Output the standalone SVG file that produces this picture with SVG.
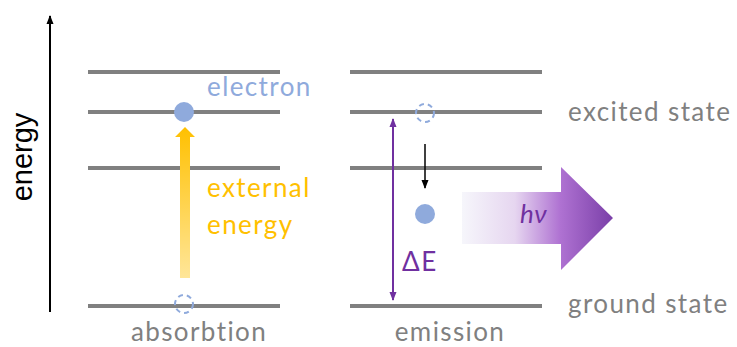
<svg xmlns="http://www.w3.org/2000/svg" width="737" height="347" viewBox="0 0 737 347">
<style>
.lvl{stroke:#808080;stroke-width:4;fill:none}
.t{font-family:Lato,"Open Sans",sans-serif;font-size:26px;letter-spacing:1.4px}
.grey{fill:#808080}
.dash{fill:none;stroke:#8FAADC;stroke-width:2;stroke-dasharray:5,4}
</style>
<defs>
<marker id="ab" markerWidth="10" markerHeight="10" refX="8" refY="5" orient="auto" markerUnits="userSpaceOnUse">
<path d="M0,1.5 L9,5 L0,8.5 Z" fill="#000"/>
</marker>
<marker id="ap" markerWidth="10" markerHeight="10" refX="8" refY="5" orient="auto-start-reverse" markerUnits="userSpaceOnUse">
<path d="M0,1.5 L9,5 L0,8.5 Z" fill="#7030A0"/>
</marker>
<linearGradient id="yg" x1="0" y1="1" x2="0" y2="0">
<stop offset="0" stop-color="#FFE699"/>
<stop offset="1" stop-color="#FFC000"/>
</linearGradient>
<linearGradient id="pg" x1="462" y1="0" x2="613" y2="0" gradientUnits="userSpaceOnUse">
<stop offset="0" stop-color="#F6F6FB"/>
<stop offset="0.35" stop-color="#E6D6F0"/>
<stop offset="0.65" stop-color="#AF72D2"/>
<stop offset="1" stop-color="#7A3FA8"/>
</linearGradient>
</defs>
<g id="axis">
<line x1="50" y1="312" x2="50" y2="16" stroke="#000" stroke-width="2" marker-end="url(#ab)"/>
<text x="32" y="157" transform="rotate(-90 32 157)" text-anchor="middle" font-family="Liberation Sans,Arial,sans-serif" font-size="29" fill="#000">energy</text>
</g>
<g id="levels-absorption">
<line class="lvl" x1="88" y1="72" x2="280" y2="72"/>
<line class="lvl" x1="88" y1="112" x2="280" y2="112"/>
<line class="lvl" x1="88" y1="168" x2="280" y2="168"/>
<line class="lvl" x1="88" y1="306" x2="280" y2="306"/>
</g>
<g id="levels-emission">
<line class="lvl" x1="350" y1="72" x2="542" y2="72"/>
<line class="lvl" x1="350" y1="112" x2="542" y2="112"/>
<line class="lvl" x1="350" y1="168" x2="542" y2="168"/>
<line class="lvl" x1="350" y1="306" x2="542" y2="306"/>
</g>
<g id="connectors">
<path id="external-energy-arrow" d="M180,278 L180,137 L175,137 L185,127 L195,137 L190,137 L190,278 Z" fill="url(#yg)"/>
<line x1="425" y1="144" x2="425" y2="188" stroke="#000" stroke-width="1.5" marker-end="url(#ab)"/>
<line x1="393" y1="119" x2="393" y2="300" stroke="#7030A0" stroke-width="2" marker-start="url(#ap)" marker-end="url(#ap)"/>
</g>
<g id="electron">
<circle cx="184" cy="112" r="10" fill="#8FAADC"/>
<text class="t" x="207" y="96" fill="#8FAADC">electron</text>
</g>
<g id="ground-hole">
<circle class="dash" cx="184" cy="304" r="9"/>
</g>
<g id="excited-hole">
<circle class="dash" cx="425" cy="113" r="9"/>
</g>
<g id="emitted-electron">
<circle cx="425" cy="214" r="10" fill="#8FAADC"/>
</g>
<g id="external-energy-label">
<text class="t" x="207" y="197" fill="#FFC000">external</text>
<text class="t" x="207" y="234" fill="#FFC000">energy</text>
</g>
<g id="delta-e">
<text class="t" x="402" y="271" font-size="30" fill="#7030A0" style="letter-spacing:1.5px">ΔE</text>
</g>
<g id="photon">
<path d="M462,192 L561,192 L561,167 L613,218 L561,270 L561,244 L462,244 Z" fill="url(#pg)"/>
<text class="t" x="520" y="223" font-style="italic" fill="#7030A0" style="letter-spacing:0.5px">hν</text>
</g>
<g id="labels">
<text class="t grey" x="568" y="121">excited state</text>
<text class="t grey" x="568" y="313">ground state</text>
<text class="t grey" x="199" y="341" text-anchor="middle">absorbtion</text>
<text class="t grey" x="450" y="341" text-anchor="middle">emission</text>
</g>
</svg>
